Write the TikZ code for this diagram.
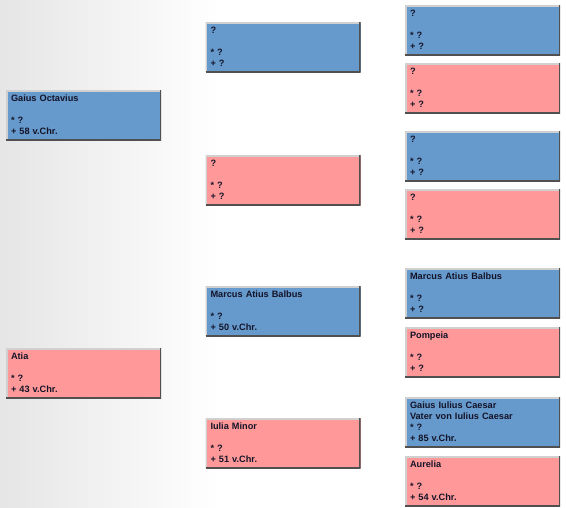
\documentclass[tikz,border=0pt]{standalone}
\usepackage{fontspec}
\setmainfont{Liberation Sans}
\definecolor{maleblue}{RGB}{102,153,204}
\definecolor{femalepink}{RGB}{255,153,153}
\definecolor{bevellight}{RGB}{208,208,208}
\definecolor{beveldark}{RGB}{80,80,80}
\definecolor{nametext}{RGB}{20,20,40}
\begin{document}
\begin{tikzpicture}[
  x=1pt, y=-1pt,
  person/.style={
    rectangle, minimum width=155pt, minimum height=50pt,
    text width=145pt, inner xsep=5pt, inner ysep=0pt, align=left,
    text=nametext, font=\fontsize{9.2}{11}\selectfont\bfseries,
    path picture={
      \draw[line width=3pt, bevellight]
        (path picture bounding box.south west) |- (path picture bounding box.north east);
      \draw[line width=3pt, beveldark]
        (path picture bounding box.south west) -| (path picture bounding box.north east);
    }
  },
  male/.style={person, fill=maleblue},
  female/.style={person, fill=femalepink}
]

% background
\useasboundingbox (0,0) rectangle (566,507);
\shade[left color=black!10, right color=white] (0,0) rectangle (220,507);
\fill[white] (220,0) rectangle (566,507);

% generation 1
\node[male] (octavius) at (83.5,115) {Gaius Octavius\\[11pt]* ?\\+ 58 v.Chr.};
\node[female] (atia) at (83.5,373) {Atia\\[11pt]* ?\\+ 43 v.Chr.};

% generation 2
\node[male] (octaviusV) at (283,47) {?\\[11pt]* ?\\+ ?};
\node[female] (octaviusM) at (283,180) {?\\[11pt]* ?\\+ ?};
\node[male] (balbus) at (283,311) {Marcus Atius Balbus\\[11pt]* ?\\+ 50 v.Chr.};
\node[female] (iulia) at (283,443) {Iulia Minor\\[11pt]* ?\\+ 51 v.Chr.};

% generation 3
\node[male] (octaviusVV) at (482.5,30) {?\\[11pt]* ?\\+ ?};
\node[female] (octaviusVM) at (482.5,88) {?\\[11pt]* ?\\+ ?};
\node[male] (octaviusMV) at (482.5,156) {?\\[11pt]* ?\\+ ?};
\node[female] (octaviusMM) at (482.5,214) {?\\[11pt]* ?\\+ ?};
\node[male] (balbusV) at (482.5,293) {Marcus Atius Balbus\\[11pt]* ?\\+ ?};
\node[female] (pompeia) at (482.5,352) {Pompeia\\[11pt]* ?\\+ ?};
\node[male] (caesar) at (482.5,422) {Gaius Iulius Caesar\\Vater von Iulius Caesar\\{}* ?\\+ 85 v.Chr.};
\node[female] (aurelia) at (482.5,481) {Aurelia\\[11pt]* ?\\+ 54 v.Chr.};

\end{tikzpicture}
\end{document}
